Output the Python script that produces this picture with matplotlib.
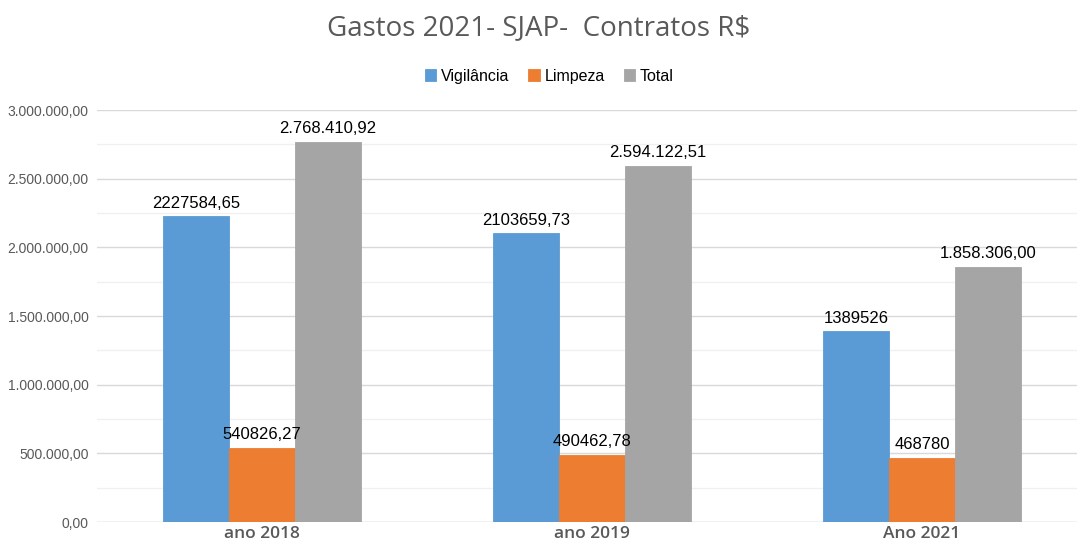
import matplotlib.pyplot as plt
import numpy as np
from matplotlib.ticker import FuncFormatter, MultipleLocator

categories = ["ano 2018", "ano 2019", "Ano 2021"]
series = ["Vigilância", "Limpeza", "Total"]
vigilancia = [2227584.65, 2103659.73, 1389526]
limpeza = [540826.27, 490462.78, 468780]
total = [2768410.92, 2594122.51, 1858306.00]
labels_vig = ["2227584,65", "2103659,73", "1389526"]
labels_limp = ["540826,27", "490462,78", "468780"]
labels_tot = ["2.768.410,92", "2.594.122,51", "1.858.306,00"]

colors = ["#5B9BD5", "#ED7D31", "#A5A5A5"]


def br(v, _pos=None):
    s = f"{v:,.2f}"
    return s.replace(",", "X").replace(".", ",").replace("X", ".")


fig = plt.figure(figsize=(10.77, 5.44), dpi=100)
ax = fig.add_axes([97 / 1077, 22 / 544, 980 / 1077, 412 / 544])

x = np.arange(len(categories))
w = 0.2
data = [vigilancia, limpeza, total]
texts = [labels_vig, labels_limp, labels_tot]
for i, (vals, lab, col, txt) in enumerate(zip(data, series, colors, texts)):
    bars = ax.bar(x + (i - 1) * w, vals, w, color=col, label=lab,
                  edgecolor=col, linewidth=0.6, zorder=3)
    for b, t in zip(bars, txt):
        ax.annotate(t, (b.get_x() + b.get_width() / 2, b.get_height()),
                    xytext=(0, 4), textcoords="offset points",
                    ha="center", va="bottom", fontsize=12,
                    family="Liberation Sans", color="#000000", zorder=4)

ax.set_xlim(-0.5, 2.47)
ax.set_ylim(0, 3000000)
ax.yaxis.set_major_locator(MultipleLocator(500000))
ax.yaxis.set_minor_locator(MultipleLocator(250000))
ax.yaxis.set_major_formatter(FuncFormatter(br))
ax.grid(axis="y", which="major", color="#D9D9D9", linewidth=1.0, zorder=0)
ax.grid(axis="y", which="minor", color="#F0F0F0", linewidth=1.0, zorder=0)
for s in ax.spines.values():
    s.set_visible(False)
ax.axhline(0, color="#D9D9D9", linewidth=1.0, zorder=2)
ax.tick_params(axis="y", which="both", length=0, pad=6, labelsize=10,
               labelcolor="#595959")
for t in ax.get_yticklabels():
    t.set_family("Liberation Sans")
ax.set_xticks(x)
ax.set_xticklabels(categories, fontsize=12.5, color="#595959",
                   family="Open Sans", fontweight="semibold")
ax.tick_params(axis="x", length=0, pad=3)

fig.text(0.5, 0.948, "Gastos 2021- SJAP-  Contratos R$", ha="center",
         va="center", fontsize=20, color="#595959", family="Open Sans")
fig.legend(loc="center", bbox_to_anchor=(0.51, 0.86), ncol=3, frameon=False,
           prop={"family": "Liberation Sans", "size": 11.5},
           handlelength=0.7, handleheight=0.7, handletextpad=0.3,
           columnspacing=1.2)

fig.savefig("out.png", dpi=100)
